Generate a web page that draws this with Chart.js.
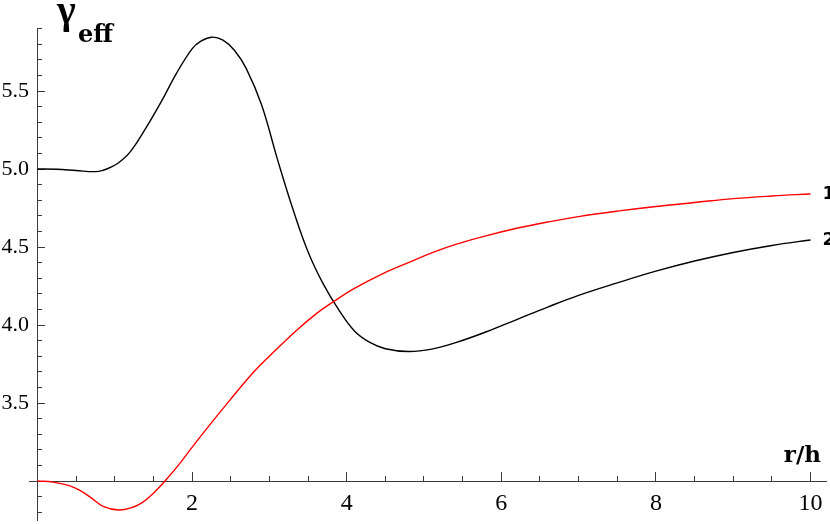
<!DOCTYPE html>
<html><head><meta charset="utf-8">
<script src="https://cdn.jsdelivr.net/npm/chart.js@4.4.0/dist/chart.umd.min.js"></script>
<style>html,body{margin:0;padding:0;background:#fff;overflow:hidden}#wrap{position:relative;width:830px;height:524px}</style>
</head><body><div id="wrap"><canvas id="c" width="830" height="524"></canvas></div>
<script>
// curve 1 (red)
const X1 = [0,0.2,0.4,0.55,0.7,0.85,1.05,1.2,1.35,1.5,1.65,1.85,2.1,2.5,2.8,3.0,3.35,3.6,3.83,4.1,4.45,4.8,5.1,5.4,5.75,6.2,6.6,7.0,7.5,8.0,8.5,9.0,9.5,10];
const Y1 = [3.0,2.993,2.972,2.94,2.89,2.838,2.814,2.826,2.86,2.922,3.0,3.118,3.28,3.525,3.70,3.80,3.965,4.07,4.15,4.235,4.325,4.40,4.462,4.515,4.565,4.62,4.66,4.695,4.73,4.76,4.785,4.81,4.827,4.84];
// curve 2 (black)
const X2 = [0,0.25,0.5,0.75,0.85,0.95,1.05,1.2,1.4,1.6,1.8,2.0,2.1,2.25,2.4,2.55,2.7,2.9,3.1,3.3,3.5,3.7,3.9,4.1,4.3,4.5,4.8,5.1,5.4,5.8,6.2,6.6,7.0,7.5,8.0,8.5,9.0,9.5,10];
const Y2 = [5.0,4.998,4.99,4.983,4.992,5.012,5.04,5.11,5.26,5.43,5.615,5.77,5.815,5.845,5.826,5.76,5.645,5.41,5.07,4.75,4.47,4.26,4.095,3.962,3.888,3.848,3.83,3.845,3.885,3.955,4.035,4.115,4.19,4.27,4.345,4.41,4.465,4.51,4.545];

const X_MAJOR_TICKS = [2,4,6,8,10];
const X_MINOR_TICKS = [0.5,1,1.5,2.5,3,3.5,4.5,5,5.5,6.5,7,7.5,8.5,9,9.5];
const Y_MAJOR_TICKS = [3.5,4.0,4.5,5.0,5.5];
const Y_MINOR_TICKS = [2.8,2.9,3.1,3.2,3.3,3.4,3.6,3.7,3.8,3.9,4.1,4.2,4.3,4.4,4.6,4.7,4.8,4.9,5.1,5.2,5.3,5.4,5.6,5.7,5.8,5.9];
const CURVE_LABELS = ['1','2'];
const X_TITLE = 'r/h';
const Y_TITLE = 'γ';
const Y_TITLE_SUB = 'eff';

const toPts = (xs, ys) => xs.map((x, i) => ({x, y: ys[i]}));
const setTicks = arr => s => { s.ticks = arr.map(v => ({value: v})); };
const noSpaceH = s => { s.height = 0; s.paddingLeft = s.paddingRight = s.paddingTop = s.paddingBottom = 0; };
const noSpaceV = s => { s.width = 0; s.paddingLeft = s.paddingRight = s.paddingTop = s.paddingBottom = 0; };
const AX = '#3a3a3a';
const XMIN = -0.1, XMAX = 10.2, YMIN = 2.75, YMAX = 5.9;

const textPlugin = {
  id: 'texts',
  afterDraw(chart) {
    const ctx = chart.ctx, xs = chart.scales.x, ys = chart.scales.y;
    ctx.save();
    ctx.fillStyle = '#000';
    ctx.textBaseline = 'alphabetic';
    ctx.textAlign = 'left';
    ctx.font = 'bold 40px "Liberation Serif"';
    ctx.fillText(Y_TITLE, 57, 23);
    ctx.font = 'bold 24px "DejaVu Serif"';
    ctx.fillText(Y_TITLE_SUB, 78, 42);
    ctx.font = 'bold 23px "DejaVu Serif"';
    ctx.textAlign = 'right';
    ctx.fillText(X_TITLE, 821, 462);
    ctx.textAlign = 'left';
    ctx.textBaseline = 'middle';
    ctx.font = 'bold 18px "DejaVu Sans"';
    const ends = [Y1[Y1.length-1], Y2[Y2.length-1]];
    CURVE_LABELS.forEach((t, i) => {
      ctx.fillText(t, xs.getPixelForValue(10) + 12, ys.getPixelForValue(ends[i]));
    });
    ctx.restore();
  }
};

new Chart(document.getElementById('c'), {
  type: 'line',
  data: {
    datasets: [
      {label: '1', data: toPts(X1, Y1), borderColor: '#ff0000', borderWidth: 1.4, pointRadius: 0, tension: 0.4, fill: false},
      {label: '2', data: toPts(X2, Y2), borderColor: '#000000', borderWidth: 1.4, pointRadius: 0, tension: 0.4, fill: false}
    ]
  },
  options: {
    responsive: false, animation: false, devicePixelRatio: 1,
    layout: {padding: {left: 29.7, right: 4, top: 28.6, bottom: 4}},
    plugins: {legend: {display: false}, tooltip: {enabled: false}, title: {display: false}},
    scales: {
      x: {type: 'linear', min: XMIN, max: XMAX, position: {y: 3},
        afterBuildTicks: setTicks(X_MAJOR_TICKS), afterFit: noSpaceH,
        ticks: {autoSkip: false, maxRotation: 0, padding: 18, color: '#000', font: {family: '"Liberation Serif"', size: 24}, callback: v => String(v)},
        grid: {drawOnChartArea: false, drawTicks: true, tickLength: -10, tickColor: AX, tickWidth: 1},
        border: {display: true, color: AX, width: 1}},
      x2: {type: 'linear', min: XMIN, max: XMAX, position: {y: 3},
        afterBuildTicks: setTicks(X_MINOR_TICKS), afterFit: noSpaceH,
        ticks: {display: false},
        grid: {drawOnChartArea: false, drawTicks: true, tickLength: -5, tickColor: AX, tickWidth: 1},
        border: {display: false}},
      y: {type: 'linear', min: YMIN, max: YMAX, position: {x: 0},
        afterBuildTicks: setTicks(Y_MAJOR_TICKS), afterFit: noSpaceV,
        ticks: {display: false},
        grid: {drawOnChartArea: false, drawTicks: true, tickLength: -8, tickColor: AX, tickWidth: 1},
        border: {display: true, color: AX, width: 1}},
      y2: {type: 'linear', min: YMIN, max: YMAX, position: {x: 0},
        afterBuildTicks: setTicks(Y_MINOR_TICKS), afterFit: noSpaceV,
        ticks: {display: false},
        grid: {drawOnChartArea: false, drawTicks: true, tickLength: -5, tickColor: AX, tickWidth: 1},
        border: {display: false}},
      yLabels: {type: 'linear', min: YMIN, max: YMAX, position: {x: -0.11},
        afterBuildTicks: setTicks(Y_MAJOR_TICKS), afterFit: noSpaceV,
        ticks: {autoSkip: false, padding: 0, color: '#000', font: {family: '"Liberation Serif"', size: 22}, callback: v => v.toFixed(1)},
        grid: {display: false, drawOnChartArea: false, drawTicks: false},
        border: {display: false}}
    }
  },
  plugins: [textPlugin]
});
</script></body></html>
